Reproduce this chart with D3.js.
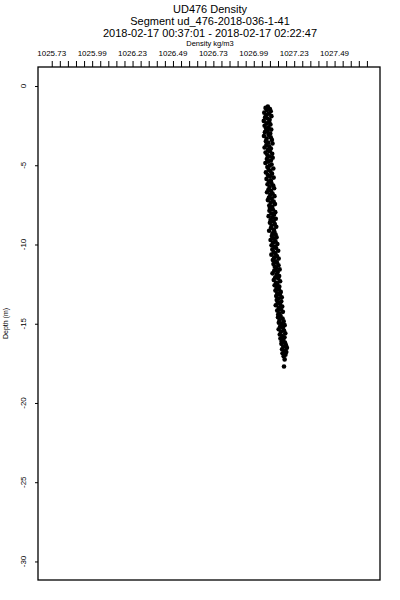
<!DOCTYPE html>
<html>
<head>
<script src="https://d3js.org/d3.v7.min.js"></script>
<style>
  body { margin: 0; background: #fff; }
  text { font-family: "Liberation Sans", Arial, sans-serif; fill: #000; }
</style>
</head>
<body>
<svg id="svg"></svg>
<script>
// titles
const titleLines = ["UD476 Density", "Segment ud_476-2018-036-1-41", "2018-02-17 00:37:01 - 2018-02-17 02:22:47"];
const xLabel = "Density kg/m3";
const yLabel = "Depth (m)";

// x ticks (labelled every 0.25, minor every 0.05)
const xTickValues = [1025.735, 1025.985, 1026.235, 1026.485, 1026.735, 1026.985, 1027.235, 1027.485];
const xTickLabels = ["1025.73", "1025.99", "1026.23", "1026.49", "1026.73", "1026.99", "1027.23", "1027.49"];
const yTickValues = [0, -5, -10, -15, -20, -25, -30];

// profile samples
const depth = [-1.30,-1.38,-1.45,-1.52,-1.60,-1.68,-1.75,-1.83,-1.90,-1.98,-2.05,-2.13,-2.20,-2.28,-2.36,-2.43,-2.51,-2.60,-2.68,-2.75,
  -2.83,-2.91,-3.00,-3.08,-3.15,-3.23,-3.31,-3.40,-3.48,-3.56,-3.63,-3.72,-3.80,-3.88,-3.95,-4.03,-4.12,-4.20,-4.28,-4.36,
  -4.45,-4.53,-4.61,-4.70,-4.78,-4.86,-4.95,-5.03,-5.11,-5.20,-5.28,-5.36,-5.45,-5.53,-5.61,-5.70,-5.78,-5.86,-5.95,-6.03,
  -6.12,-6.20,-6.28,-6.37,-6.45,-6.53,-6.62,-6.70,-6.78,-6.87,-6.95,-7.03,-7.12,-7.20,-7.29,-7.37,-7.45,-7.54,-7.62,-7.70,
  -7.79,-7.87,-7.96,-8.04,-8.12,-8.21,-8.29,-8.38,-8.46,-8.54,-8.63,-8.71,-8.80,-8.88,-8.96,-9.05,-9.13,-9.21,-9.30,-9.38,
  -9.47,-9.55,-9.63,-9.72,-9.80,-9.89,-9.97,-10.05,-10.14,-10.22,-10.31,-10.39,-10.47,-10.56,-10.64,-10.73,-10.81,-10.89,-10.98,-11.06,
  -11.15,-11.23,-11.31,-11.40,-11.48,-11.57,-11.65,-11.73,-11.82,-11.90,-11.99,-12.07,-12.15,-12.24,-12.32,-12.41,-12.49,-12.57,-12.66,-12.74,
  -12.83,-12.91,-12.99,-13.08,-13.16,-13.25,-13.33,-13.41,-13.50,-13.58,-13.67,-13.75,-13.83,-13.92,-14.00,-14.09,-14.17,-14.25,-14.34,-14.42,
  -14.51,-14.59,-14.67,-14.76,-14.84,-14.93,-15.01,-15.09,-15.18,-15.26,-15.35,-15.43,-15.51,-15.60,-15.68,-15.77,-15.85,-15.93,-16.02,-16.10,
  -16.19,-16.27,-16.35,-16.44,-16.52,-16.61,-16.69,-16.78,-16.86,-16.95,-17.05,-17.25,-17.70];
const density = [
  1027.072,1027.058,1027.085,1027.066,1027.090,1027.050,1027.078,1027.062,1027.094,1027.055,1027.070,1027.083,1027.047,1027.080,1027.064,1027.088,1027.052,1027.076,1027.061,1027.093,
  1027.071,1027.054,1027.087,1027.076,1027.048,1027.090,1027.065,1027.097,1027.060,1027.074,1027.101,1027.063,1027.080,1027.052,1027.091,1027.073,1027.084,1027.058,1027.099,1027.069,
  1027.080,1027.102,1027.066,1027.091,1027.074,1027.057,1027.095,1027.083,1027.069,1027.106,1027.077,1027.088,1027.060,1027.098,1027.072,1027.085,1027.108,1027.064,1027.090,1027.079,
  1027.094,1027.070,1027.105,1027.083,1027.111,1027.076,1027.092,1027.067,1027.101,1027.087,1027.113,1027.079,1027.096,1027.072,1027.108,1027.090,1027.116,1027.081,1027.099,1027.085,
  1027.103,1027.082,1027.118,1027.094,1027.110,1027.077,1027.100,1027.121,1027.089,1027.107,1027.085,1027.115,1027.096,1027.124,1027.091,1027.109,1027.080,1027.113,1027.101,1027.120,
  1027.097,1027.126,1027.110,1027.089,1027.119,1027.104,1027.131,1027.095,1027.114,1027.123,1027.100,1027.136,1027.108,1027.118,1027.094,1027.128,1027.112,1027.139,1027.103,1027.121,
  1027.129,1027.107,1027.138,1027.115,1027.124,1027.145,1027.112,1027.133,1027.101,1027.127,1027.142,1027.118,1027.136,1027.109,1027.148,1027.123,1027.131,1027.114,1027.143,1027.126,
  1027.140,1027.119,1027.152,1027.131,1027.146,1027.124,1027.158,1027.137,1027.127,1027.155,1027.133,1027.148,1027.121,1027.161,1027.139,1027.152,1027.130,1027.165,1027.143,1027.136,
  1027.151,1027.135,1027.163,1027.144,1027.170,1027.140,1027.157,1027.176,1027.148,1027.165,1027.139,1027.172,1027.153,1027.180,1027.146,1027.161,1027.175,1027.150,1027.168,1027.158,
  1027.178,1027.156,1027.184,1027.168,1027.190,1027.160,1027.175,1027.186,1027.163,1027.181,1027.170,1027.176,1027.172];

const svg = d3.select("#svg").attr("width", 400).attr("height", 600);

const plotLeft = 38, plotRight = 380, plotTop = 67, plotBottom = 580;

const x = d3.scaleLinear().domain([1025.65, 1027.766]).range([plotLeft, plotRight]);
const y = d3.scaleLinear().domain([1.2, -31.17]).range([plotTop, plotBottom]);

// titles
svg.selectAll(".title")
  .data(titleLines)
  .enter().append("text")
  .attr("x", 210)
  .attr("y", (d, i) => 13 + i * 12)
  .attr("text-anchor", "middle")
  .style("font-size", "11px")
  .text(d => d);

svg.append("text")
  .attr("x", 210).attr("y", 46)
  .attr("text-anchor", "middle")
  .style("font-size", "7.5px")
  .text(xLabel);

// x axis on top: minor ticks
const minorTicks = d3.range(0, 40).map(i => xTickValues[0] + i * 0.05);
svg.append("g")
  .attr("transform", `translate(0,${plotTop})`)
  .call(d3.axisTop(x).tickValues(minorTicks).tickSize(6).tickFormat(""))
  .call(g => g.select(".domain").remove())
  .selectAll("line").attr("stroke", "#000");

svg.selectAll(".xlab")
  .data(xTickValues)
  .enter().append("text")
  .attr("x", d => x(d))
  .attr("y", 56)
  .attr("text-anchor", "middle")
  .style("font-size", "8px")
  .text((d, i) => xTickLabels[i]);

// y axis
svg.append("g")
  .attr("transform", `translate(${plotLeft},0)`)
  .call(d3.axisLeft(y).tickValues(yTickValues).tickSize(3).tickFormat(""))
  .call(g => g.select(".domain").remove())
  .selectAll("line").attr("stroke", "#000");

svg.selectAll(".ylab")
  .data(yTickValues)
  .enter().append("text")
  .attr("transform", d => `translate(26,${y(d)}) rotate(-90)`)
  .attr("text-anchor", "middle")
  .style("font-size", "8px")
  .text(d => d);

svg.append("text")
  .attr("transform", `translate(8,${(plotTop + plotBottom) / 2}) rotate(-90)`)
  .attr("text-anchor", "middle")
  .style("font-size", "7px")
  .text(yLabel);

// frame
svg.append("rect")
  .attr("x", plotLeft).attr("y", plotTop)
  .attr("width", plotRight - plotLeft).attr("height", plotBottom - plotTop)
  .attr("fill", "none").attr("stroke", "#000").attr("stroke-width", 1.3);

// points
svg.append("g").selectAll("circle")
  .data(depth)
  .enter().append("circle")
  .attr("cx", (d, i) => x(density[i]))
  .attr("cy", d => y(d))
  .attr("r", 2.3)
  .attr("fill", "#000");
</script>
</body>
</html>
